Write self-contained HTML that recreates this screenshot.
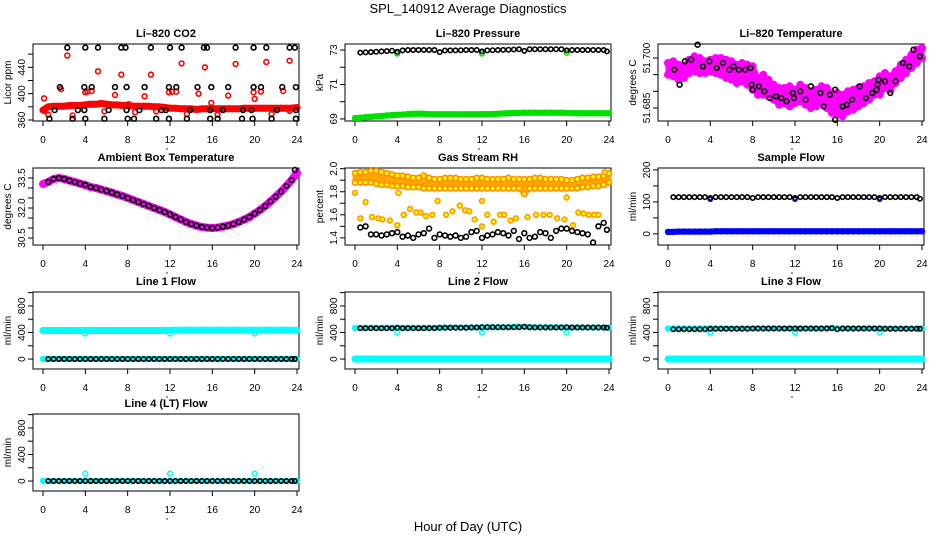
<!DOCTYPE html>
<html><head><meta charset="utf-8">
<style>
html,body{margin:0;padding:0;background:#fff;}
svg{display:block;font-family:"Liberation Sans",Arial,sans-serif;}
</style></head>
<body>
<svg id="chart" width="936" height="540" viewBox="0 0 936 540" xmlns="http://www.w3.org/2000/svg">
<rect x="0" y="0" width="936" height="540" fill="#fff"/>
<text x="468" y="13" font-size="13" text-anchor="middle">SPL_140912  Average Diagnostics</text>
<text x="468" y="531" font-size="13" text-anchor="middle">Hour of Day (UTC)</text>
</svg>
<script>
// x grids (hours)
const DX = [0,0.5,1,1.5,2,2.5,3,3.5,4,4.5,5,5.5,6,6.5,7,7.5,8,8.5,9,9.5,10,10.5,11,11.5,12,12.5,13,13.5,14,14.5,15,15.5,16,16.5,17,17.5,18,18.5,19,19.5,20,20.5,21,21.5,22,22.5,23,23.5,24];
const HX = [0.5,1,1.5,2,2.5,3,3.5,4,4.5,5,5.5,6,6.5,7,7.5,8,8.5,9,9.5,10,10.5,11,11.5,12,12.5,13,13.5,14,14.5,15,15.5,16,16.5,17,17.5,18,18.5,19,19.5,20,20.5,21,21.5,22,22.5,23,23.5,23.8];
const OUTX = [4,12,20];
const xTicks = [0,4,8,12,16,20,24];

// CO2
const co2Red = [375,380,381,381,381,382,382,382,383,384, 384,385,384,383,383,382,382,381,381,381, 381,380,380,379,378,378,377,377,377,376, 377,377,377,377,377,377,377,377,378,378, 378,378,378,378,378,378,378,378,379];
const co2RedOutX = [0.1,0.1,0.5,1.7,2.3,2.8,4,4.2,4.6,5.2,5.8,6.8,7.4,8.1,8.7,9.6,10.2,10.7,11.9,12.2,12.6,13.1,13.6,14.7,15.3,15.9,16.5,17.5,18.2,19.9,20,20.6,21.1,21.6,22.7,23.3,23.3];
const co2RedOutY = [393,374,368,407,458,367,402,403,404,434,373,398,429,384,372,396,429,373,402,403,403,446,369,400,440,386,368,397,445,402,392,403,448,369,404,450,374];
const co2BlkX = [2.3,4,5.2,7.4,7.8,10.2,12,13.1,15.2,15.5,18.2,19.9,21.1,23.3,23.8, 1.6,3.9,4.6,6.8,7.9,9.6,11.9,12.6,14.6,15.9,17.5,19.9,20.6,22.6,23.9, 1.1,3.3,3.9,6.2,7.9,9.1,11.2,11.6,13.9,15.8,17,18.9,19.7,22.1,23.9, 0.6,2.8,4,5.8,8,8.6,10.7,11.9,13.6,15.8,16.5,18.8,19.8,21.6,23.9];
const co2BlkY = [470,470,470,470,470,470,470,470,470,470,470,470,470,470,470, 410,410,410,410,410,410,410,410,410,410,410,410,410,410,410, 375,375,375,375,375,375,375,375,375,375,375,375,375,375,375, 362,362,362,362,362,362,362,362,362,362,362,362,362,362,362];

// Pressure
const presBlk = [72.85,72.86,72.88,72.9,72.92,72.94,72.96,72.9,72.98,73.0, 73.0,73.0,73.0,73.0,73.0,72.88,72.97,72.98,72.98,72.99, 73.0,73.0,73.0,72.92,72.98,72.99,73.0,73.01,73.02,73.03, 73.04,72.95,73.05,73.05,73.05,73.05,73.05,73.05,73.05,72.98, 73.0,73.0,73.0,73.0,73.0,73.0,73.0,72.92];
const presGrn = [69.05,69.07,69.1,69.12,69.15,69.17,69.2,69.22,69.24,69.25, 69.28,69.3,69.3,69.3,69.28,69.27,69.27,69.27,69.27,69.27, 69.27,69.27,69.27,69.27,69.28,69.28,69.28,69.3,69.32,69.33, 69.35,69.35,69.36,69.36,69.36,69.36,69.36,69.36,69.36,69.36, 69.35,69.34,69.33,69.33,69.33,69.33,69.33,69.33,69.33];
const presGrnOut = [72.8,72.8,72.85];

// Li-820 temperature
const tempMagU = [51.6985,51.699,51.698,51.6975,51.6995,51.7005,51.7,51.699,51.6995,51.7, 51.7,51.6995,51.699,51.698,51.6985,51.698,51.6975,51.694,51.695,51.6935, 51.692,51.691,51.691,51.6915,51.6905,51.692,51.691,51.69,51.6905,51.6915, 51.691,51.6895,51.6895,51.689,51.69,51.6905,51.691,51.6915,51.6925,51.693, 51.6945,51.6955,51.6945,51.696,51.698,51.6995,51.701,51.7025,51.703];
const tempMagL = [51.695,51.6945,51.6935,51.694,51.6955,51.696,51.6955,51.6955,51.696,51.6955, 51.695,51.694,51.6935,51.6925,51.693,51.692,51.6905,51.689,51.689,51.6885, 51.6875,51.686,51.6865,51.6855,51.6865,51.687,51.686,51.685,51.6855,51.6865, 51.685,51.6835,51.683,51.6825,51.684,51.6845,51.6855,51.6865,51.6875,51.689, 51.689,51.691,51.6905,51.6925,51.694,51.6955,51.697,51.6985,51.7];
const tempBlkX = [0.6,1.1,1.6,2.2,2.8,3.3,3.9,4.6,5.2,5.8,6.2,6.7,7.3,7.8,7.9,8,8.6,9.1,9.6,10.2,10.7,11.2,11.8,11.9,12.5,13,13.5,14.4,14.7,15.3,15.8,15.8,16.5,16.9,17.4,18.1,18.7,19.3,19.7,19.8,19.9,20.5,21,21.5,22.2,22.8,23.2,23.8];
const tempBlkY = [51.6965,51.692,51.699,51.6995,51.704,51.6975,51.699,51.697,51.6985,51.6965,51.6975,51.6965,51.6965,51.697,51.692,51.6905,51.6915,51.69,51.688,51.6885,51.688,51.687,51.6895,51.688,51.69,51.6875,51.6915,51.6895,51.6855,51.689,51.6905,51.6815,51.6855,51.686,51.6875,51.6915,51.688,51.6895,51.6905,51.692,51.6935,51.693,51.6895,51.693,51.6985,51.6975,51.7025,51.7005];

// Ambient box temperature
const ambMag = [33.2,33.3,33.45,33.5,33.45,33.37,33.3,33.22,33.15,33.05,33.0, 32.92,32.85,32.77,32.68,32.6,32.5,32.4,32.3,32.2,32.1, 32.0,31.9,31.8,31.68,31.55,31.43,31.3,31.2,31.12,31.05, 31.02,31.0,31.02,31.07,31.12,31.2,31.3,31.42,31.55,31.72, 31.9,32.1,32.33,32.57,32.82,33.1,33.4,33.75];
const ambBlk = [33.3,33.45,33.5,33.45,33.37,33.3,33.22,33.15,33.05,33.0, 32.92,32.85,32.77,32.68,32.6,32.5,32.4,32.3,32.2,32.1, 32.0,31.9,31.8,31.68,31.55,31.43,31.3,31.2,31.12,31.05, 31.02,31.0,31.02,31.07,31.12,31.2,31.3,31.42,31.55,31.72, 31.9,32.1,32.33,32.57,32.82,33.1,33.4,33.9];

// Gas stream RH
const rhU = [1.96,1.97,1.97,1.98,1.98,1.97,1.96,1.95,1.94,1.94, 1.93,1.92,1.92,1.94,1.92,1.91,1.91,1.92,1.92,1.92, 1.91,1.91,1.91,1.92,1.92,1.91,1.91,1.91,1.91,1.92, 1.91,1.91,1.91,1.91,1.92,1.92,1.91,1.91,1.91,1.91, 1.9,1.9,1.91,1.92,1.92,1.93,1.93,1.94,1.96];
const rhL = [1.88,1.88,1.88,1.88,1.87,1.86,1.86,1.85,1.85,1.85, 1.84,1.84,1.84,1.83,1.83,1.83,1.83,1.83,1.83,1.83, 1.83,1.83,1.83,1.83,1.83,1.83,1.83,1.83,1.83,1.83, 1.83,1.83,1.78,1.83,1.83,1.83,1.83,1.83,1.83,1.83, 1.83,1.83,1.83,1.84,1.84,1.85,1.85,1.86,1.88];
const rhOutX = [0,0.5,1,1.6,2.2,2.6,3.3,4,4.1,4.6,5.2,5.8,6.2,6.7,7.3,7.8,8.6,9.2,9.9,10.4,10.8,11.3,12,12,12.5,13.1,13.7,14.1,14.7,15.2,16.3,17.1,17.8,18.4,19.1,19.8,20,20.6,21.1,21.6,22.1,22.6,23,23.6];
const rhOutY = [1.79,1.57,1.71,1.58,1.57,1.56,1.55,1.51,1.79,1.6,1.65,1.62,1.62,1.59,1.6,1.72,1.6,1.63,1.68,1.64,1.63,1.56,1.5,1.72,1.6,1.54,1.6,1.6,1.55,1.57,1.58,1.6,1.6,1.6,1.57,1.56,1.75,1.51,1.62,1.61,1.6,1.6,1.6,1.97];
const rhBlk = [1.49,1.5,1.43,1.43,1.42,1.43,1.44,1.45,1.41,1.42, 1.40,1.43,1.44,1.48,1.40,1.43,1.42,1.41,1.42,1.40, 1.41,1.45,1.46,1.40,1.42,1.43,1.45,1.44,1.42,1.46, 1.39,1.44,1.40,1.41,1.45,1.44,1.40,1.46,1.48,1.48, 1.46,1.45,1.44,1.43,1.36,1.5,1.53,1.47];

// Sample flow
const sfBlk = [115,115,115,115,115,115,115,112,115,115,115,115,115,115,115,112,115,115,115,115,115,115,115,112,115,115,115,115,115,115,115,112,115,115,115,115,115,115,115,112,115,115,115,115,115,115,115,110];
const sfBlue = [6,6,7,7,7,7,7,7,7,8,8,8,8,8,8,8,8,8,8,8,8,8,8,8,8,8,8,8,8,8,8,8,8,8,8,8,8,8,8,8,8,8,8,8,8,8,8,8,8];
const sfBlueOut = [108,108,108];

// Line flows
const l1CyanHi = [430,430,430,430,430,430,430,430,430,430,430,430,430,430,430,430,430,430,430,430,430,430,430,430,432,435,435,435,435,435,435,435,435,435,435,435,435,435,435,435,435,435,435,435,435,435,435,435,435];
const l1CyanLo = [0,0,0,0,0,0,0,0,0,0,0,0,0,0,0,0,0,0,0,0,0,0,0,0,0,0,0,0,0,0,0,0,0,0,0,0,0,0,0,0,0,0,0,0,0,0,0,0,0];
const l1Blk = [0,0,0,0,0,0,0,0,0,0,0,0,0,0,0,0,0,0,0,0,0,0,0,0,0,0,0,0,0,0,0,0,0,0,0,0,0,0,0,0,0,0,0,0,0,0,0,0];
const l1Out = [385,385,385];
const l2CyanHi = [470,470,470,470,470,470,470,470,470,470,470,470,470,470,470,470,470,475,475,475,475,475,475,475,480,480,480,480,480,480,485,490,485,480,480,480,480,480,480,480,475,475,475,475,475,475,475,475,475];
const l2Blk = [465,465,465,465,465,465,465,470,465,465,465,465,465,465,465,470,470,470,470,470,470,475,475,480,480,480,480,480,480,480,480,485,480,475,475,475,475,475,475,478,475,475,475,475,475,475,475,470];
const l2Out = [400,400,405];
const l3CyanHi = [460,460,460,460,460,460,460,460,460,460,460,460,460,460,460,460,460,460,460,460,460,460,460,460,460,460,460,460,460,460,465,470,465,460,460,460,460,460,460,460,460,460,460,460,460,460,460,460,460];
const l3Blk = [450,450,450,450,450,450,450,455,455,455,455,455,455,455,455,460,460,460,460,460,460,460,460,460,460,460,460,460,460,460,465,450,460,460,460,460,460,460,460,460,455,455,455,455,455,455,455,455];
const l3Out = [400,400,400];
const l4Out = [110,110,110];

const NS = 'http://www.w3.org/2000/svg';
const svg = document.getElementById('chart');
function mk(tag, attrs, parent){ const e=document.createElementNS(NS,tag); for(const k in attrs) e.setAttribute(k,attrs[k]); (parent||svg).appendChild(e); return e; }

const colLeft = [33,345,658];
const rowTop = [44,168,292,414];
const BW = 266, BH = 77;

function makePanel(col,row,title,ylab,ydom,yticks,ylabels,name){
  const L=colLeft[col], T=rowTop[row], R=L+BW, B=T+BH;
  const g = mk('g',{});
  
  
  const xs = v => L+10 + v/24*(BW-12);
  const ys = v => B - (v-ydom[0])/(ydom[1]-ydom[0])*BH;
  const t = mk('text',{x:L+BW/2,y:T-7,'font-size':11,'font-weight':'bold','text-anchor':'middle'},g);
  t.textContent = title;
  
  
  const yt = mk('text',{x:0,y:0,'font-size':10,'text-anchor':'middle',transform:`translate(${L-22},${T+BH/2}) rotate(-90)`},g);
  yt.textContent = ylab;
  
  
  const xa = mk('g',{},g);
  
  
  mk('line',{x1:xs(0),x2:xs(24),y1:B,y2:B,stroke:'#000'},xa);
  xTicks.forEach(v=>{
    mk('line',{x1:xs(v),x2:xs(v),y1:B,y2:B+5,stroke:'#000'},xa);
    const tl = mk('text',{x:xs(v),y:B+22,'font-size':10,'text-anchor':'middle'},xa);
    tl.textContent = v;
  });
  mk('circle',{cx:L+BW/2+1,cy:B+28,r:0.7,fill:'#000'},xa);
  const ya = mk('g',{},g);
  
  
  mk('line',{x1:L,x2:L,y1:ys(yticks[0]),y2:ys(yticks[yticks.length-1]),stroke:'#000'},ya);
  yticks.forEach(v=>{ mk('line',{x1:L-5,x2:L,y1:ys(v),y2:ys(v),stroke:'#000'},ya); });
  ylabels.forEach(v=>{
    const tl = mk('text',{x:0,y:0,'font-size':10,'text-anchor':'middle',transform:`translate(${L-8},${ys(v[0])}) rotate(-90)`},ya);
    tl.textContent = v[1];
  });
  const box = mk('rect',{x:L,y:T,width:BW,height:BH,fill:'none',stroke:'#000'},g);
  
  
  const clip = mk('g',{},g);
  function series(xarr,yarr,color,opts){
    opts=opts||{};
    const sg = mk('g',{},clip);
    
    
    const n=Math.min(xarr.length,yarr.length);
    if(opts.band){
      let d='';
      for(let i=0;i<n;i++) d+=(i?'L':'M')+xs(xarr[i]).toFixed(1)+' '+ys(yarr[i]).toFixed(1);
      mk('path',{d:d,fill:'none',stroke:opts.bandColor||color,'stroke-width':opts.band,'stroke-linejoin':'round','stroke-linecap':'round'},sg);
    }
    for(let i=0;i<n;i++){
      const c = mk('circle',{cx:xs(xarr[i]).toFixed(1),cy:ys(yarr[i]).toFixed(1),r:opts.r||2.4,fill:opts.fill||'none',stroke:color,'stroke-width':opts.sw||1.6},sg);
      
      
    }
  }
  series.area = function(xarr,u,l,color,nm){
    const n=Math.min(xarr.length,u.length,l.length);
    let d='';
    for(let i=0;i<n;i++) d+=(i?'L':'M')+xs(xarr[i]).toFixed(1)+' '+ys(u[i]).toFixed(1);
    for(let i=n-1;i>=0;i--) d+='L'+xs(xarr[i]).toFixed(1)+' '+ys(l[i]).toFixed(1);
    const p = mk('path',{d:d+'Z',fill:color,stroke:color,'stroke-width':5,'stroke-linejoin':'round'},clip);
    
    
  };
  return series;
}

let s = makePanel(0,0,'Li\u2013820 CO2','Licor ppm',[358.5,475.4],[360,380,400,420,440,460],[[360,'360'],[400,'400'],[440,'440']],'co2');
s(DX,co2Red,'#ff0000',{band:7,name:'co2-red-band',r:2.6});
s(co2RedOutX,co2RedOutY,'#ff0000',{name:'co2-red-outliers'});
s(co2BlkX,co2BlkY,'#000',{name:'co2-black'});

s = makePanel(1,0,'Li\u2013820 Pressure','kPa',[68.88,73.35],[69,70,71,72,73],[[69,'69'],[71,'71'],[73,'73']],'pressure');
s(DX,presGrn,'#00e000',{band:6,name:'pressure-green',r:2.4});
s(OUTX,presGrnOut,'#00e000',{name:'pressure-green-outliers'});
s(HX,presBlk,'#000',{name:'pressure-black',r:2.2});

s = makePanel(2,0,'Li\u2013820 Temperature','degrees C',[51.6811,51.7042],[51.685,51.69,51.695,51.7],[[51.685,'51.685'],[51.7,'51.700']],'li820-temp');
s.area(DX,tempMagU,tempMagL,'#ff00ff','temp-magenta-cloud');
s(DX,tempMagU,'#ff00ff',{name:'temp-magenta-upper',r:3,sw:2});
s(DX,tempMagL,'#ff00ff',{name:'temp-magenta-lower',r:3,sw:2});
s(tempBlkX,tempBlkY,'#000',{name:'temp-black'});

s = makePanel(0,1,'Ambient Box Temperature','degrees C',[30.15,34.0],[30.5,31,31.5,32,32.5,33,33.5],[[30.5,'30.5'],[32,'32.0'],[33.5,'33.5']],'ambient-temp');
s(DX,ambMag,'#ff00ff',{band:8,name:'ambient-magenta',r:3});
s(HX,ambBlk,'#000',{name:'ambient-black'});

s = makePanel(1,1,'Gas Stream RH','percent',[1.338,2.006],[1.4,1.5,1.6,1.7,1.8,1.9,2.0],[[1.4,'1.4'],[1.6,'1.6'],[1.8,'1.8'],[2.0,'2.0']],'rh');
s.area(DX,rhU,rhL,'#ffa500','rh-cloud');
s(DX,rhU,'#ff8c00',{name:'rh-upper',r:2.6,fill:'#ffff00'});
s(DX,rhL,'#ff8c00',{name:'rh-lower',r:2.6,fill:'#ffff00'});
s(rhOutX,rhOutY,'#ff9900',{name:'rh-outliers',fill:'#ffff00'});
s(HX,rhBlk,'#000',{name:'rh-black'});

s = makePanel(2,1,'Sample Flow','ml/min',[-35,206],[0,50,100,150,200],[[0,'0'],[100,'100'],[200,'200']],'sample-flow');
s(DX,sfBlue,'#0000ff',{band:6,name:'sample-flow-blue',r:2.4});
s(OUTX,sfBlueOut,'#0000ff',{name:'sample-flow-blue-outliers',r:2});
s(HX,sfBlk,'#000',{name:'sample-flow-black',r:2.2});

const fT=[0,200,400,600,800,1000], fL=[[0,'0'],[400,'400'],[800,'800']], fD=[-150,1010];
s = makePanel(0,2,'Line 1 Flow','ml/min',fD,fT,fL,'line1');
s(DX,l1CyanHi,'#00ffff',{band:7,name:'line1-cyan-high',r:2.6});
s(DX,l1CyanLo,'#00ffff',{band:6,name:'line1-cyan-low',r:2.4});
s(OUTX,l1Out,'#00ffff',{name:'line1-outliers'});
s(HX,l1Blk,'#000',{name:'line1-black',r:2.2});

s = makePanel(1,2,'Line 2 Flow','ml/min',fD,fT,fL,'line2');
s(DX,l1CyanLo,'#00ffff',{band:7,name:'line2-cyan-low',r:2.6});
s(DX,l2CyanHi,'#00ffff',{band:5,name:'line2-cyan-high',r:2.4});
s(OUTX,l2Out,'#00ffff',{name:'line2-outliers'});
s(HX,l2Blk,'#000',{name:'line2-black',r:2.2});

s = makePanel(2,2,'Line 3 Flow','ml/min',fD,fT,fL,'line3');
s(DX,l1CyanLo,'#00ffff',{band:7,name:'line3-cyan-low',r:2.6});
s(DX,l3CyanHi,'#00ffff',{band:5,name:'line3-cyan-high',r:2.4});
s(OUTX,l3Out,'#00ffff',{name:'line3-outliers'});
s(HX,l3Blk,'#000',{name:'line3-black',r:2.2});

s = makePanel(0,3,'Line 4 (LT) Flow','ml/min',fD,fT,fL,'line4');
s(DX,l1CyanLo,'#00ffff',{band:5,name:'line4-cyan-low',r:2.4});
s(OUTX,l4Out,'#00ffff',{name:'line4-outliers'});
s(HX,l1Blk,'#000',{name:'line4-black',r:2.2});
</script>
</body></html>
